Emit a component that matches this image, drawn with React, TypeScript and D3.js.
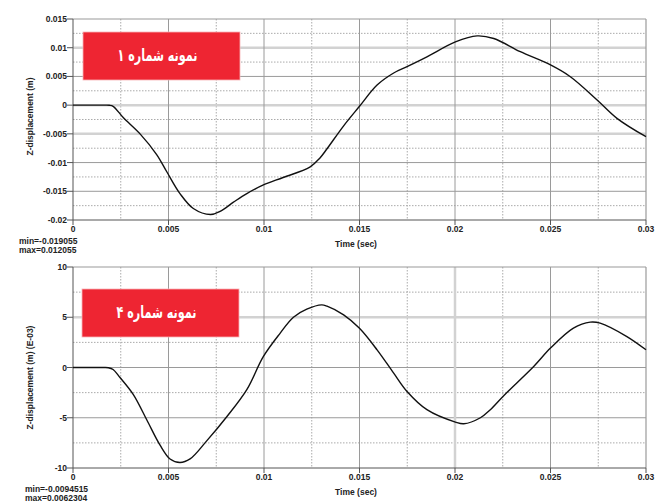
import React from "react";
import * as d3 from "d3";

// ---------- data ----------
const timeTicks = [0, 0.005, 0.01, 0.015, 0.02, 0.025, 0.03];
const timeTickLabels = ["0", "0.005", "0.01", "0.015", "0.02", "0.025", "0.03"];

const topYTicks = [0.015, 0.01, 0.005, 0, -0.005, -0.01, -0.015, -0.02];
const topYTickLabels = ["0.015", "0.01", "0.005", "0", "-0.005", "-0.01", "-0.015", "-0.02"];
const topLightRows = [0.01, 0, -0.005];

const botYTicks = [10, 5, 0, -5, -10];
const botYTickLabels = ["10", "5", "0", "-5", "-10"];
const botLightRows = [5];
const botLightCols = [0.02];

const sample1T = [0, 0.0012, 0.0017, 0.0019, 0.0021, 0.00264, 0.00351, 0.00438, 0.00491, 0.0056, 0.0063, 0.0072, 0.0077, 0.0084, 0.0091, 0.00997, 0.011, 0.0124, 0.01293, 0.0133, 0.01417, 0.015, 0.01592, 0.01679, 0.01749, 0.01853, 0.02002, 0.02116, 0.02203, 0.02342, 0.025, 0.02604, 0.02744, 0.02848, 0.03];
const sample1V = [0, 0, 0, -0.00003, -0.0002, -0.0022, -0.005, -0.0086, -0.0116, -0.0154, -0.018, -0.019055, -0.0185, -0.0169, -0.0154, -0.0139, -0.0126, -0.0108, -0.0092, -0.0076, -0.0036, -0.0002, 0.0035, 0.0056, 0.0067, 0.0084, 0.011, 0.012055, 0.0116, 0.0093, 0.007, 0.00495, 0.0009, -0.0023, -0.0055];

const sample4T = [0, 0.0012, 0.0016, 0.00185, 0.0021, 0.00246, 0.00316, 0.00386, 0.00455, 0.00508, 0.0056, 0.00613, 0.007, 0.00805, 0.0091, 0.00997, 0.01084, 0.01154, 0.01224, 0.01302, 0.0133, 0.01417, 0.015, 0.01592, 0.01679, 0.01749, 0.01853, 0.02002, 0.02046, 0.02133, 0.02185, 0.02255, 0.02412, 0.025, 0.0262, 0.02708, 0.0276, 0.029, 0.03];
const sample4V = [0, 0, 0, -0.02, -0.2, -1.0, -2.7, -5.2, -7.7, -9.1, -9.4515, -9.1, -7.3, -4.9, -2.2, 1.1, 3.4, 5.0, 5.8, 6.2304, 6.1, 5.24, 3.9, 1.76, -0.56, -2.39, -4.2, -5.43, -5.6, -5.0, -4.2, -2.8, 0.1, 1.93, 3.92, 4.52, 4.42, 3.08, 1.76];

const panelTitles = ["نمونه شماره ۱", "نمونه شماره ۴"];
const yLabels = ["Z-displacement (m)", "Z-displacement (m) (E-03)"];
const minMax = [["min=-0.019055", "max=0.012055"], ["min=-0.0094515", "max=0.0062304"]];

const FONT = "'Liberation Sans', Arial, sans-serif";

type PanelProps = {
  top: number;
  bottom: number;
  yDomain: [number, number];
  yTicks: number[];
  yTickLabels: string[];
  lightRows: number[];
  lightCols: number[];
  t: number[];
  v: number[];
  title: string;
  yLabel: string;
  mm: string[];
  box: [number, number, number, number];
  mmX: number;
  mmY: number;
};

function Panel(p: PanelProps) {
  const x = d3.scaleLinear().domain([0, 0.03]).range([73, 646]);
  const y = d3.scaleLinear().domain(p.yDomain).range([p.bottom, p.top]);
  const step = p.yTicks[0] - p.yTicks[1];
  const minorY: number[] = [];
  for (let i = 0; i < p.yTicks.length - 1; i++) minorY.push(p.yTicks[i] - step / 2);
  const minorX: number[] = [];
  for (let i = 0; i < timeTicks.length - 1; i++) minorX.push(timeTicks[i] + 0.0025);
  const pts: [number, number][] = p.t.map((tt, i) => [tt, p.v[i]]);
  const line = d3
    .line<[number, number]>()
    .x((d) => x(d[0]))
    .y((d) => y(d[1]))
    .curve(d3.curveCatmullRom.alpha(0.5));
  const xl = x(0), xr = x(0.03);
  const yb = y(p.yDomain[0]), yt = y(p.yDomain[1]);
  return (
    <g>
      {/* minor dotted grid */}
      {minorX.map((m, i) => (
        <line key={"mx" + i} x1={x(m)} x2={x(m)} y1={yt} y2={yb} stroke="#aaa" strokeWidth={1} strokeDasharray="1.5,1.5" />
      ))}
      {minorY.map((m, i) => (
        <line key={"my" + i} x1={xl} x2={xr} y1={y(m)} y2={y(m)} stroke="#aaa" strokeWidth={1} strokeDasharray="1.5,1.5" />
      ))}
      {/* major grid */}
      {p.yTicks.slice(1, -1).map((m, i) =>
        p.lightRows.includes(m) ? (
          <line key={"gy" + i} x1={xl} x2={xr} y1={y(m)} y2={y(m)} stroke="#d2d2d2" strokeWidth={2.5} />
        ) : (
          <line key={"gy" + i} x1={xl} x2={xr} y1={y(m)} y2={y(m)} stroke="#9a9a9a" strokeWidth={1} />
        )
      )}
      {timeTicks.slice(1, -1).map((m, i) =>
        p.lightCols.includes(m) ? (
          <line key={"gx" + i} x1={x(m)} x2={x(m)} y1={yt} y2={yb} stroke="#d2d2d2" strokeWidth={2.5} />
        ) : (
          <line key={"gx" + i} x1={x(m)} x2={x(m)} y1={yt} y2={yb} stroke="#9a9a9a" strokeWidth={1} />
        )
      )}
      {/* frame */}
      <line x1={xl} x2={xr} y1={yt} y2={yt} stroke="#9a9a9a" strokeWidth={1.2} />
      <line x1={xr} x2={xr} y1={yt} y2={yb} stroke="#9a9a9a" strokeWidth={1.2} />
      <line x1={xl} x2={xl} y1={yt} y2={yb} stroke="#555" strokeWidth={1} />
      <line x1={xl} x2={xr} y1={yb} y2={yb} stroke="#555" strokeWidth={1} />
      {/* y ticks */}
      {p.yTicks.map((m, i) => (
        <g key={"yt" + i}>
          <line x1={67} x2={xl} y1={y(m)} y2={y(m)} stroke="#555" strokeWidth={1} />
          <text x={67} y={y(m) + 3} textAnchor="end" fontFamily={FONT} fontSize={8.5} fontWeight="bold" fill="#222">
            {p.yTickLabels[i]}
          </text>
        </g>
      ))}
      {/* x ticks */}
      {timeTicks.map((m, i) => (
        <g key={"xt" + i}>
          <line x1={x(m)} x2={x(m)} y1={yb} y2={yb + 5} stroke="#555" strokeWidth={1} />
          <text x={x(m)} y={yb + 12} textAnchor="middle" fontFamily={FONT} fontSize={8.5} fontWeight="bold" fill="#222">
            {timeTickLabels[i]}
          </text>
        </g>
      ))}
      <text x={356} y={yb + 27} textAnchor="middle" fontFamily={FONT} fontSize={8.5} fontWeight="bold" fill="#222">
        Time (sec)
      </text>
      <text
        transform={`translate(33,${(yt + yb) / 2 + (p.yLabel.length > 20 ? 10 : -3)}) rotate(-90)`}
        textAnchor="middle"
        fontFamily={FONT}
        fontSize={8.5}
        fontWeight="bold"
        fill="#222"
      >
        {p.yLabel}
      </text>
      <text x={p.mmX} y={p.mmY} fontFamily={FONT} fontSize={8.5} fontWeight="bold" fill="#222">
        {p.mm[0]}
      </text>
      <text x={p.mmX} y={p.mmY + 9} fontFamily={FONT} fontSize={8.5} fontWeight="bold" fill="#222">
        {p.mm[1]}
      </text>
      {/* curve */}
      <path d={line(pts) || ""} fill="none" stroke="#111" strokeWidth={1.4} />
      {/* title box */}
      <rect x={p.box[0]} y={p.box[1]} width={p.box[2]} height={p.box[3]} fill="#ee2532" stroke="#f7b3b7" strokeWidth={0.8} />
      <text
        x={p.box[0] + p.box[2] / 2 - 4}
        y={p.box[1] + p.box[3] / 2 + 5}
        textAnchor="middle"
        fontFamily="'DejaVu Sans', sans-serif"
        fontSize={17}
        fontWeight="bold"
        fill="#fff"
        direction="rtl"
        textLength={80}
        lengthAdjust="spacingAndGlyphs"
      >
        {p.title}
      </text>
    </g>
  );
}

export default function App() {
  return (
    <svg width={657} height={502} style={{ position: "absolute", left: 0, top: 0, background: "#fff" }}>
      <rect width={657} height={502} fill="#fff" />
      <Panel
        top={19}
        bottom={220}
        yDomain={[-0.02, 0.015]}
        yTicks={topYTicks}
        yTickLabels={topYTickLabels}
        lightRows={topLightRows}
        lightCols={[]}
        t={sample1T}
        v={sample1V}
        title={panelTitles[0]}
        yLabel={yLabels[0]}
        mm={minMax[0]}
        box={[83, 32, 157, 48]}
        mmX={19}
        mmY={244}
      />
      <Panel
        top={267}
        bottom={468}
        yDomain={[-10, 10]}
        yTicks={botYTicks}
        yTickLabels={botYTickLabels}
        lightRows={botLightRows}
        lightCols={botLightCols}
        t={sample4T}
        v={sample4V}
        title={panelTitles[1]}
        yLabel={yLabels[1]}
        mm={minMax[1]}
        box={[82, 289, 157, 48]}
        mmX={25}
        mmY={492}
      />
    </svg>
  );
}
